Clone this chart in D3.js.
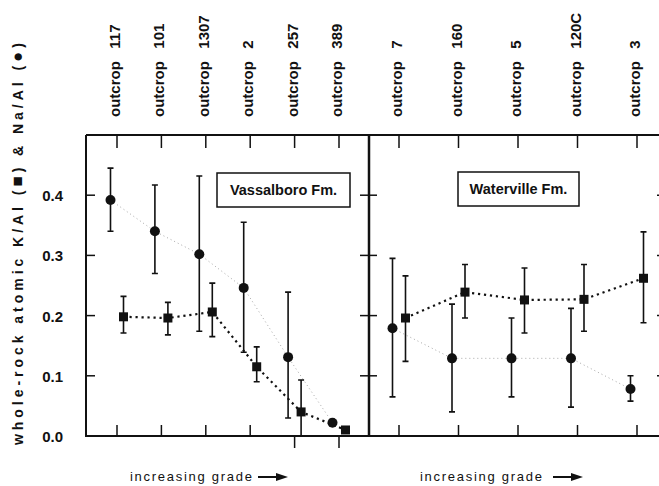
<!DOCTYPE html>
<html>
<head>
<meta charset="utf-8">
<script src="https://cdn.jsdelivr.net/npm/d3@7"></script>
<style>
  body { margin: 0; background: #fff; }
  svg { display: block; font-family: "Liberation Sans", Arial, sans-serif; }
</style>
</head>
<body>
<script>
// Vassalboro Fm. (left panel)
const vassSites = ["outcrop 117", "outcrop 101", "outcrop 1307", "outcrop 2", "outcrop 257", "outcrop 389"];
const vassNa = [0.392, 0.340, 0.302, 0.246, 0.131, 0.022];
const vassNaLo = [0.340, 0.270, 0.174, 0.139, 0.030, null];
const vassNaHi = [0.445, 0.417, 0.432, 0.355, 0.239, null];
const vassK = [0.198, 0.196, 0.206, 0.115, 0.040, 0.010];
const vassKLo = [0.171, 0.168, 0.165, 0.090, 0.000, null];
const vassKHi = [0.232, 0.222, 0.254, 0.148, 0.093, null];

// Waterville Fm. (right panel)
const watSites = ["outcrop 7", "outcrop 160", "outcrop 5", "outcrop 120C", "outcrop 3"];
const watNa = [0.179, 0.129, 0.129, 0.129, 0.078];
const watNaLo = [0.065, 0.040, 0.065, 0.048, 0.058];
const watNaHi = [0.295, 0.219, 0.196, 0.212, 0.100];
const watK = [0.196, 0.239, 0.226, 0.227, 0.262];
const watKLo = [0.124, 0.196, 0.171, 0.174, 0.188];
const watKHi = [0.266, 0.285, 0.279, 0.285, 0.339];

const yTicks = [0, 0.1, 0.2, 0.3, 0.4];

const width = 659, height = 486;
const yTop = 135, yBot = 436;
const xLeft = 86, xMid = 369, xRight = 663;

const svg = d3.select("body").append("svg")
  .attr("width", width)
  .attr("height", height);

const y = d3.scaleLinear().domain([0, 0.5]).range([yBot, yTop]);

const panels = [
  {
    sites: vassSites, na: vassNa, naLo: vassNaLo, naHi: vassNaHi,
    k: vassK, kLo: vassKLo, kHi: vassKHi,
    x: d3.scaleLinear().domain([0, 5]).range([117, 339]),
    label: "Vassalboro Fm.", box: [217, 173, 133, 34],
    downTicks: [4, 5]
  },
  {
    sites: watSites, na: watNa, naLo: watNaLo, naHi: watNaHi,
    k: watK, kLo: watKLo, kHi: watKHi,
    x: d3.scaleLinear().domain([0, 4]).range([399, 637]),
    label: "Waterville Fm.", box: [458, 172, 121, 34],
    downTicks: []
  }
];

const ink = "#111";

// frame
svg.append("path")
  .attr("d", `M${xLeft},${yTop}H${xRight}M${xLeft},${yTop}V${yBot}H${xRight}`)
  .attr("fill", "none").attr("stroke", ink).attr("stroke-width", 2);
svg.append("line")
  .attr("x1", xMid).attr("x2", xMid).attr("y1", yTop).attr("y2", yBot)
  .attr("stroke", ink).attr("stroke-width", 2.5);
svg.append("line")
  .attr("x1", xRight).attr("x2", xRight).attr("y1", yTop).attr("y2", yBot)
  .attr("stroke", ink).attr("stroke-width", 2);

// y ticks
const yt = svg.append("g");
yTicks.slice(1).forEach(t => {
  yt.append("line").attr("x1", xLeft).attr("x2", xLeft + 9).attr("y1", y(t)).attr("y2", y(t));
  yt.append("line").attr("x1", xMid - 9).attr("x2", xMid + 8).attr("y1", y(t)).attr("y2", y(t));
  yt.append("line").attr("x1", xRight - 6).attr("x2", xRight).attr("y1", y(t)).attr("y2", y(t));
});
yt.selectAll("line").attr("stroke", ink).attr("stroke-width", 1.5);

svg.append("g").selectAll("text")
  .data(yTicks)
  .join("text")
  .attr("x", 63)
  .attr("y", d => y(d) + 6)
  .attr("text-anchor", "end")
  .attr("font-size", 15)
  .attr("font-weight", "bold")
  .attr("fill", ink)
  .text(d => d.toFixed(1));

// y title (glyphs for the symbols a bit larger)
const yTitle = svg.append("text")
  .attr("transform", "translate(23,445) rotate(-90)")
  .attr("font-size", 14)
  .attr("font-weight", "bold")
  .attr("fill", ink)
  .attr("textLength", 402)
  .attr("lengthAdjust", "spacing");
yTitle.append("tspan").text("whole-rock atomic K/Al (");
yTitle.append("tspan").attr("font-size", 17).text("\u25A0");
yTitle.append("tspan").text(") & Na/Al (");
yTitle.append("tspan").attr("font-size", 17).text("\u25CF");
yTitle.append("tspan").text(")");

const offC = -6.5, offS = 6.5;

panels.forEach(p => {
  const g = svg.append("g");
  const idx = p.sites.map((d, i) => i);

  // top / bottom ticks
  g.selectAll(".tt").data(idx).join("line")
    .attr("x1", i => p.x(i)).attr("x2", i => p.x(i))
    .attr("y1", yTop).attr("y2", yTop + 13)
    .attr("stroke", ink).attr("stroke-width", 1.5);
  g.selectAll(".bt").data(idx).join("line")
    .attr("x1", i => p.x(i)).attr("x2", i => p.x(i))
    .attr("y1", i => p.downTicks.includes(i) ? yBot : yBot - 11)
    .attr("y2", i => p.downTicks.includes(i) ? yBot + 12 : yBot)
    .attr("stroke", ink).attr("stroke-width", 1.5);

  g.selectAll(".lab").data(p.sites).join("text")
    .attr("transform", (d, i) => `translate(${p.x(i) + 3},117) rotate(-90)`)
    .attr("font-size", 15)
    .attr("font-weight", "bold")
    .attr("fill", ink)
    .style("white-space", "pre")
    .text(d => d.replace(" ", "   "));

  // panel label box
  const [bx, by, bw, bh] = p.box;
  g.append("rect")
    .attr("x", bx).attr("y", by).attr("width", bw).attr("height", bh)
    .attr("fill", "#fff").attr("stroke", ink).attr("stroke-width", 1.5);
  g.append("text")
    .attr("x", bx + bw / 2).attr("y", by + bh / 2 + 5)
    .attr("text-anchor", "middle")
    .attr("font-size", 14.5)
    .attr("font-weight", "bold")
    .attr("fill", ink)
    .text(p.label);

  // connecting lines
  g.append("path")
    .attr("d", d3.line().x(i => p.x(i) + offC).y(i => y(p.na[i]))(idx))
    .attr("fill", "none").attr("stroke", "#a8a8a8")
    .attr("stroke-width", 1).attr("stroke-dasharray", "1,3");
  g.append("path")
    .attr("d", d3.line().x(i => p.x(i) + offS).y(i => y(p.k[i]))(idx))
    .attr("fill", "none").attr("stroke", ink)
    .attr("stroke-width", 2.2).attr("stroke-dasharray", "2.2,3.8");

  // error bars
  const bars = [];
  idx.forEach(i => {
    if (p.naLo[i] != null) bars.push({ x: p.x(i) + offC, lo: p.naLo[i], hi: p.naHi[i] });
    if (p.kLo[i] != null) bars.push({ x: p.x(i) + offS, lo: p.kLo[i], hi: p.kHi[i] });
  });
  g.selectAll(".eb").data(bars).join("path")
    .attr("d", b => `M${b.x},${y(b.lo)}V${y(b.hi)}M${b.x - 3},${y(b.lo)}H${b.x + 3}M${b.x - 3},${y(b.hi)}H${b.x + 3}`)
    .attr("fill", "none").attr("stroke", ink).attr("stroke-width", 1.6);

  // markers
  g.selectAll(".na").data(idx).join("circle")
    .attr("cx", i => p.x(i) + offC).attr("cy", i => y(p.na[i]))
    .attr("r", 5).attr("fill", ink);
  g.selectAll(".k").data(idx).join("rect")
    .attr("x", i => p.x(i) + offS - 4.5).attr("y", i => y(p.k[i]) - 4.5)
    .attr("width", 9).attr("height", 9).attr("fill", ink);
});

// increasing grade labels
[[130, 258], [420, 553]].forEach(([tx, ax]) => {
  svg.append("text")
    .attr("x", tx).attr("y", 481)
    .attr("font-size", 13)
    .attr("fill", ink)
    .attr("textLength", 122)
    .attr("lengthAdjust", "spacing")
    .text("increasing grade");
  svg.append("line")
    .attr("x1", ax).attr("x2", ax + 22).attr("y1", 477).attr("y2", 477)
    .attr("stroke", ink).attr("stroke-width", 2);
  svg.append("path")
    .attr("d", `M${ax + 30},477L${ax + 18},473L${ax + 18},481Z`)
    .attr("fill", ink);
});
</script>
</body>
</html>
